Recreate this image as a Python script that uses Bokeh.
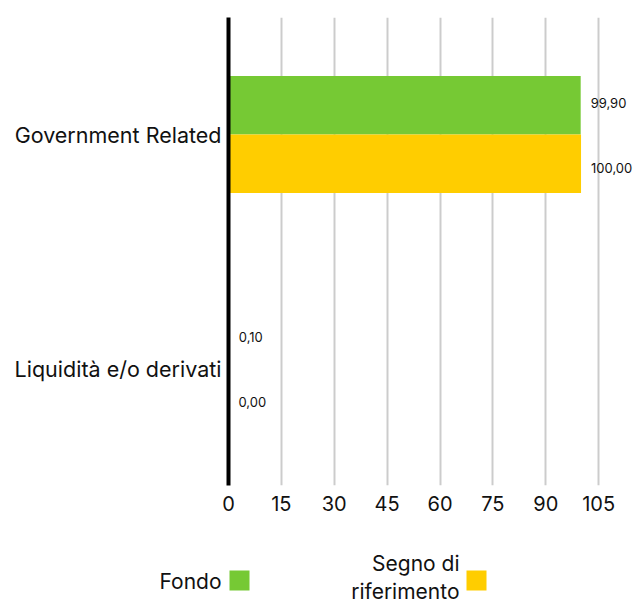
from bokeh.plotting import figure
from bokeh.models import FactorRange, Range1d, FixedTicker, ColumnDataSource, LabelSet
from bokeh.transform import dodge
from bokeh.layouts import column
from bokeh.embed import file_html
from bokeh.resources import INLINE
from bokeh.core.properties import value

categories = ["Government Related", "Liquidità e/o derivati"]
fondo = [99.90, 0.10]
segno = [100.00, 0.00]
x_ticks = [0, 15, 30, 45, 60, 75, 90, 105]
series_names = ["Fondo", "Segno di\nriferimento"]
colors = ["#76c934", "#ffcd00"]

FONT = "Inter"

def fmt(v):
    return f"{v:.2f}".replace(".", ",")

src = ColumnDataSource(dict(
    cat=categories,
    fondo=fondo,
    segno=segno,
    fondo_lbl=[fmt(v) for v in fondo],
    segno_lbl=[fmt(v) for v in segno],
))

p = figure(width=638, height=530,
           y_range=FactorRange(factors=list(reversed(categories)), range_padding=0),
           x_range=Range1d(0, 116.3),
           output_backend="svg", toolbar_location=None,
           min_border_left=228, min_border_right=0, min_border_top=17, min_border_bottom=45)
p.frame_align = False
p.outline_line_color = None
p.background_fill_color = "white"
p.border_fill_color = "white"

p.hbar(y=dodge("cat", 0.125, range=p.y_range), left=0, right="fondo", height=0.25,
       source=src, color=colors[0], line_color=None)
p.hbar(y=dodge("cat", -0.125, range=p.y_range), left=0, right="segno", height=0.25,
       source=src, color=colors[1], line_color=None)

lbl_f = LabelSet(x="fondo", y=dodge("cat", 0.125, range=p.y_range), text="fondo_lbl",
                 source=src, x_offset=10, y_offset=2, text_baseline="middle",
                 text_font=value(FONT), text_font_size="13px", text_color="#111111")
lbl_s = LabelSet(x="segno", y=dodge("cat", -0.125, range=p.y_range), text="segno_lbl",
                 source=src, x_offset=10, y_offset=-4, text_baseline="middle",
                 text_font=value(FONT), text_font_size="13px", text_color="#111111")
p.add_layout(lbl_f)
p.add_layout(lbl_s)

p.xaxis.ticker = FixedTicker(ticks=x_ticks)
p.xaxis.axis_line_color = None
p.xaxis.major_tick_line_color = None
p.xaxis.minor_tick_line_color = None
p.xaxis.major_tick_out = 0
p.xaxis.major_label_text_font = FONT
p.xaxis.major_label_text_font_size = "20px"
p.xaxis.major_label_text_color = "#111111"
p.xaxis.major_label_standoff = 10

p.yaxis.axis_line_color = "black"
p.yaxis.axis_line_width = 4
p.yaxis.major_tick_line_color = None
p.yaxis.minor_tick_line_color = None
p.yaxis.major_tick_out = 0
p.yaxis.major_label_text_font = FONT
p.yaxis.major_label_text_font_size = "21.5px"
p.yaxis.major_label_text_color = "#111111"
p.yaxis.major_label_standoff = 7

p.xgrid.grid_line_color = "#cccccc"
p.xgrid.grid_line_width = 2
p.ygrid.grid_line_color = None

# legend panel
lg = figure(width=638, height=75, x_range=Range1d(0, 638), y_range=Range1d(0, 75),
            output_backend="svg", toolbar_location=None,
            min_border=0)
lg.frame_align = False
lg.outline_line_color = None
lg.axis.visible = False
lg.grid.visible = False
lsrc = ColumnDataSource(dict(
    name=series_names,
    color=colors,
    sx=[239, 476],
    tx=[221, 459],
    ty=[24, 28],
))
lg.rect(x="sx", y=25, width=20, height=20, source=lsrc, color="color", line_color=None)
lg.text(x="tx", y="ty", text="name", source=lsrc, text_align="right", text_baseline="middle",
        text_font=value(FONT), text_font_size="21px", text_color="#111111",
        text_line_height=1.1)

layout = column(p, lg, spacing=0)
open("out.html", "w").write(file_html(layout, INLINE))
